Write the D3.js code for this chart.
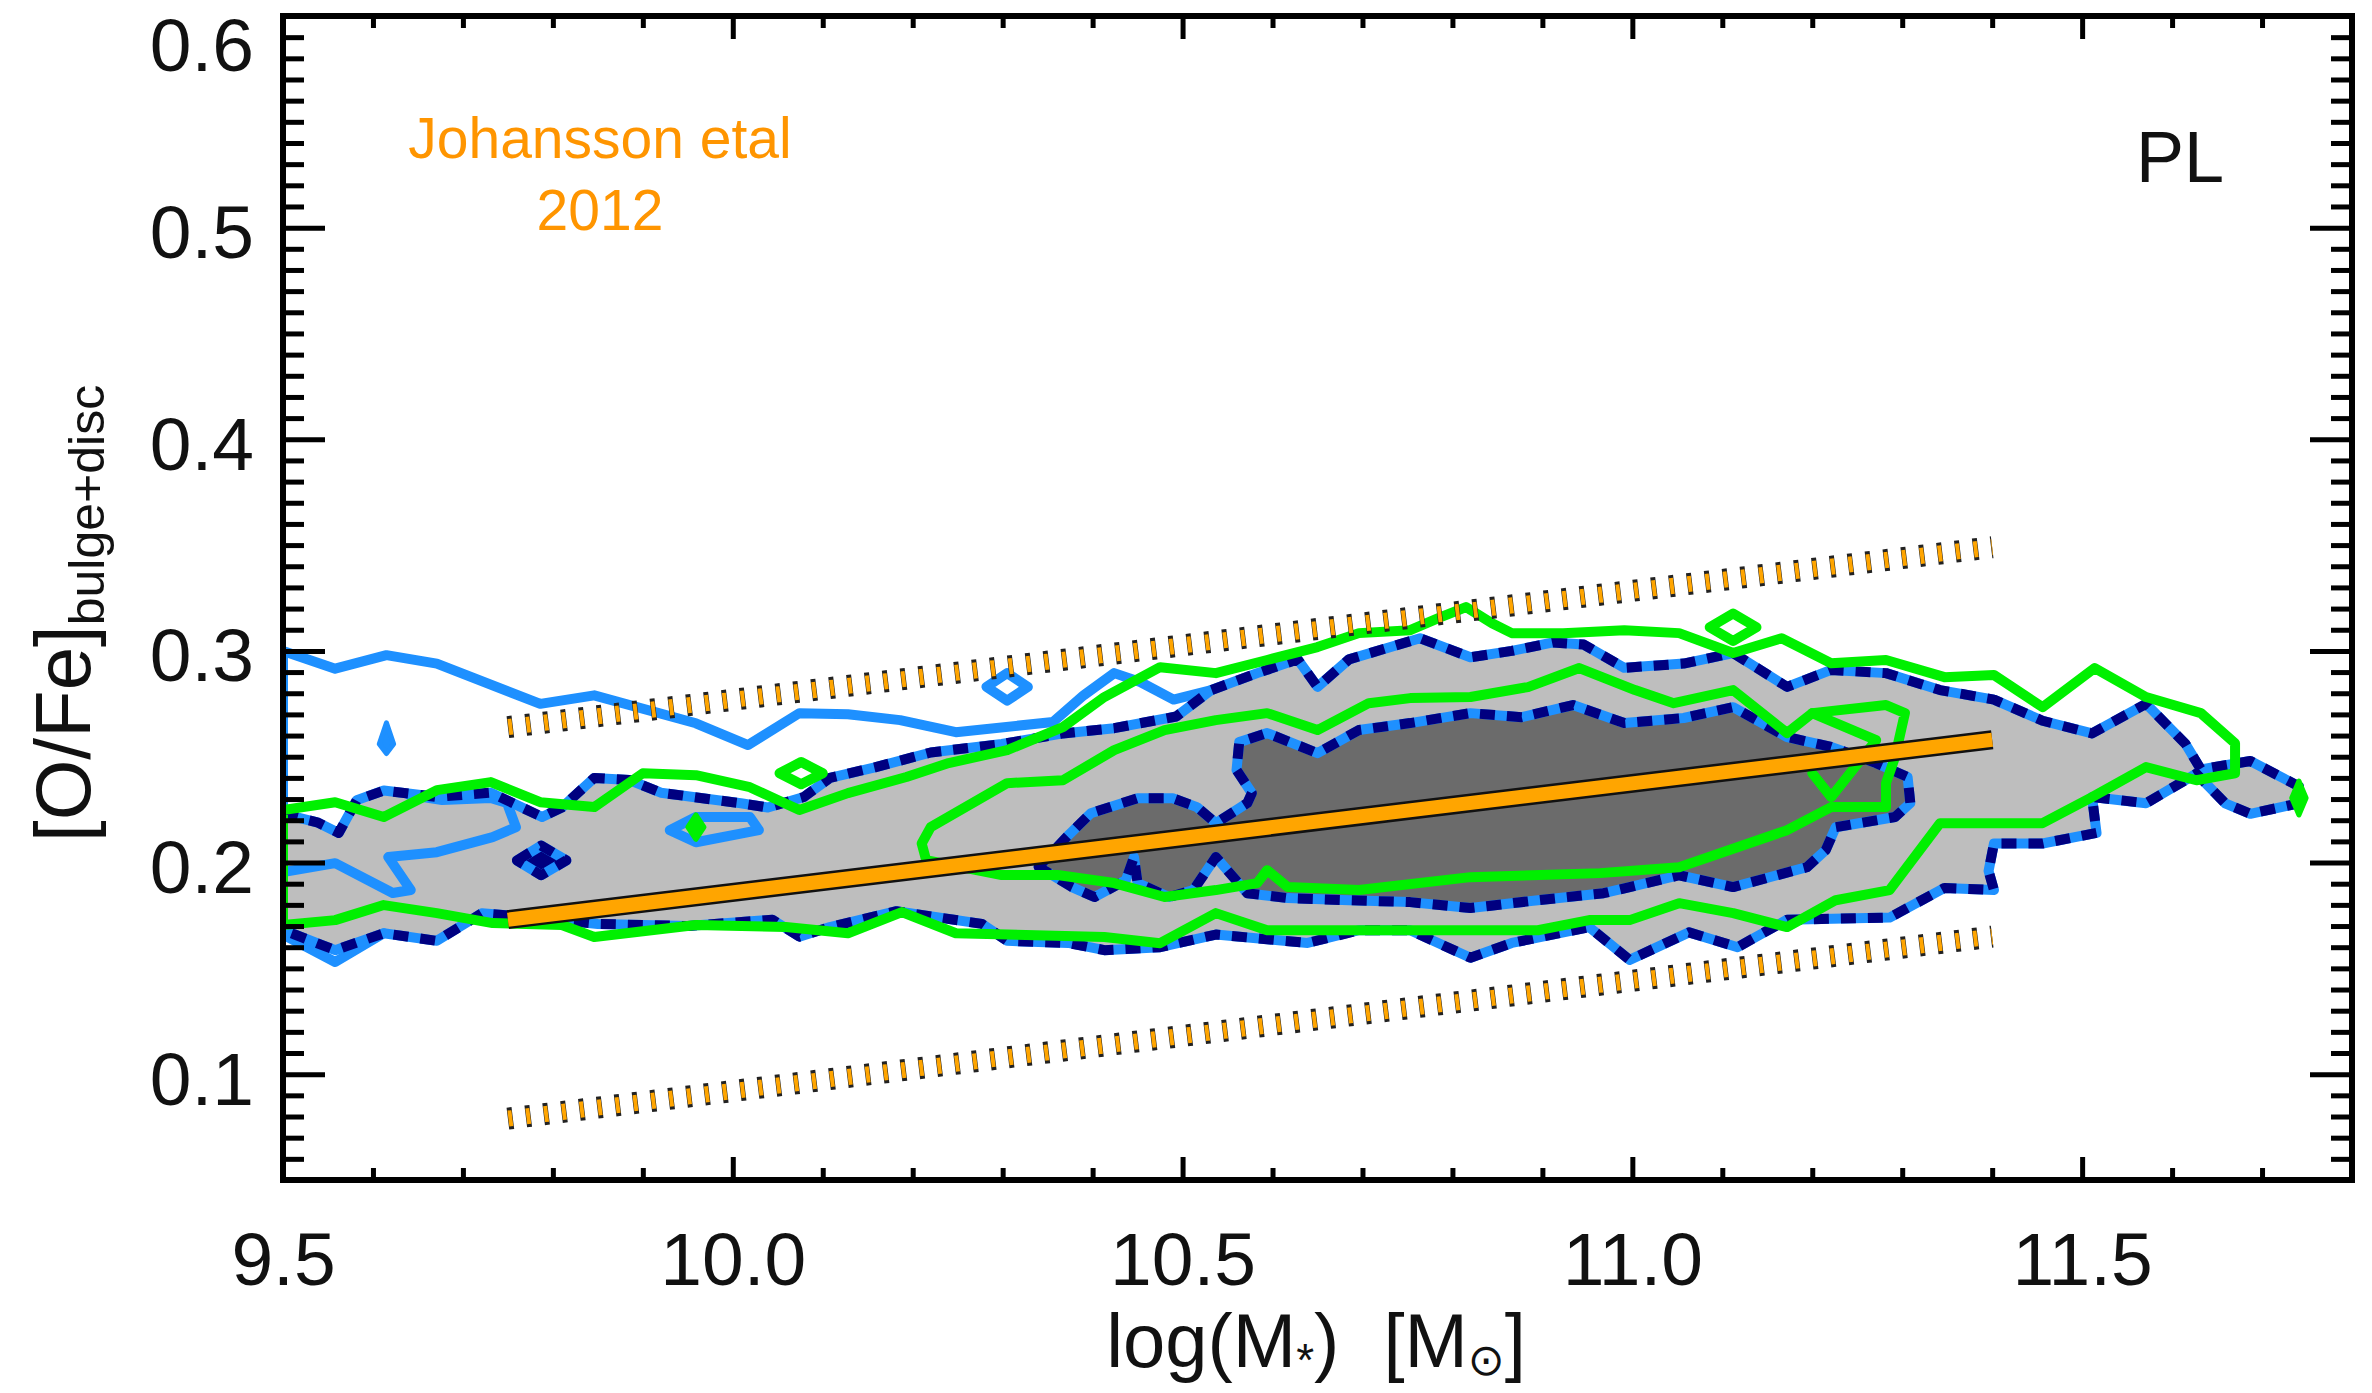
<!DOCTYPE html>
<html><head><meta charset="utf-8">
<script src="https://cdn.jsdelivr.net/npm/d3@7"></script>
<style>body{margin:0;background:#fff;overflow:hidden}</style>
</head><body>
<svg id="chart" width="2372" height="1393"></svg>
<script>
// ---------- tick labels ----------
const xMajor = [9.5, 10.0, 10.5, 11.0, 11.5];
const xLabels = ["9.5", "10.0", "10.5", "11.0", "11.5"];
const yMajor = [0.1, 0.2, 0.3, 0.4, 0.5, 0.6];
const yLabels = ["0.1", "0.2", "0.3", "0.4", "0.5", "0.6"];

// ---------- Johansson et al. 2012 relation and scatter band ----------
const relationX = [9.75, 11.4];
const relationY = [0.173, 0.258];
const bandUpperY = [0.264, 0.349];
const bandLowerY = [0.079, 0.165];

// ---------- model contours: filled outer (light grey) region ----------
const outerRegion = [
[9.5,0.223],[9.538,0.219],[9.562,0.214],[9.582,0.2295],[9.612,0.234],[9.671,0.231],[9.731,0.233],[9.788,0.2215],[9.81,0.226],[9.846,0.240],[9.885,0.239],[9.92,0.233],[10.009,0.228],[10.039,0.226],[10.079,0.231],[10.108,0.240],[10.158,0.245],[10.22,0.252],[10.299,0.256],[10.367,0.261],[10.424,0.2635],[10.493,0.269],[10.532,0.2815],[10.583,0.2895],[10.628,0.296],[10.65,0.283],[10.685,0.296],[10.764,0.306],[10.82,0.297],[10.866,0.300],[10.912,0.304],[10.946,0.303],[10.991,0.292],[11.057,0.294],[11.112,0.299],[11.172,0.283],[11.221,0.291],[11.282,0.2895],[11.342,0.2815],[11.402,0.277],[11.456,0.267],[11.511,0.261],[11.571,0.275],[11.615,0.256],[11.632,0.244],[11.687,0.248],[11.741,0.236],
[11.741,0.228],[11.687,0.223],[11.659,0.228],[11.627,0.242],[11.571,0.228],[11.511,0.231],[11.516,0.214],[11.456,0.209],[11.402,0.209],[11.396,0.196],[11.402,0.187],[11.347,0.188],[11.286,0.174],[11.172,0.173],[11.117,0.160],[11.063,0.167],[10.997,0.154],[10.952,0.1695],[10.866,0.162],[10.82,0.155],[10.753,0.168],[10.696,0.168],[10.639,0.162],[10.537,0.166],[10.475,0.160],[10.413,0.1586],[10.373,0.162],[10.305,0.163],[10.277,0.171],[10.182,0.177],[10.108,0.1695],[10.074,0.165],[10.044,0.173],[9.95,0.170],[9.85,0.171],[9.78,0.174],[9.721,0.176],[9.671,0.163],[9.612,0.1666],[9.558,0.1586],[9.513,0.166],[9.5,0.168]
];

// ---------- model contours: filled inner (dark grey) regions ----------
const innerRegion = [
[10.34,0.198],[10.371,0.212],[10.398,0.2233],[10.450,0.2304],[10.489,0.2304],[10.516,0.2262],[10.537,0.2186],[10.572,0.2281],[10.577,0.2328],[10.560,0.2437],[10.563,0.2569],[10.594,0.2612],[10.650,0.2517],[10.696,0.2626],[10.753,0.2659],[10.820,0.2706],[10.877,0.2687],[10.934,0.2744],[10.991,0.2659],[11.057,0.2683],[11.112,0.2734],[11.172,0.2593],[11.221,0.2546],[11.271,0.2470],[11.306,0.2404],[11.309,0.2281],[11.292,0.2215],[11.226,0.2167],[11.215,0.2059],[11.194,0.1978],[11.112,0.1884],[11.052,0.1940],[10.997,0.1884],[10.968,0.1855],[10.895,0.1822],[10.82,0.1785],[10.753,0.1813],[10.685,0.1822],[10.617,0.1832],[10.572,0.1855],[10.537,0.2026],[10.512,0.1870],[10.485,0.1837],[10.450,0.1903],[10.446,0.2026],[10.437,0.1917],[10.402,0.1837],[10.377,0.1884],[10.346,0.1964]
];
const innerIsland = [[9.76,0.201],[9.787,0.208],[9.815,0.201],[9.787,0.194]];

// ---------- second model (blue solid) contour pieces ----------
const blueTop = [[9.5,0.227],[9.5,0.300],[9.558,0.2916],[9.615,0.298],[9.671,0.294],[9.786,0.275],[9.846,0.279],[9.959,0.2658],[10.017,0.2555],[10.074,0.2706],[10.128,0.2701],[10.186,0.2673],[10.248,0.2616],[10.356,0.2664],[10.39,0.279],[10.424,0.2895],[10.453,0.2853],[10.49,0.277],[10.532,0.2815]];
const blueLeftLoop = [[9.5,0.1955],[9.558,0.1997],[9.622,0.1856],[9.642,0.187],[9.617,0.2026],[9.671,0.2049],[9.733,0.212],[9.759,0.2167],[9.749,0.2281],[9.731,0.2305],[9.677,0.2295],[9.64,0.232]];
const blueLowerLeft = [[9.5,0.166],[9.558,0.153],[9.612,0.1666]];
const blueMidLoop = [[9.930,0.2153],[9.959,0.2215],[10.019,0.2215],[10.029,0.2153],[9.959,0.2096]];
const blueDiamond = [[10.282,0.283],[10.305,0.2895],[10.328,0.283],[10.305,0.2765]];
const blueDrop = [[9.615,0.266],[9.623,0.256],[9.615,0.2515],[9.607,0.256]];

// ---------- third model (green) contours ----------
const greenOuter = [
[9.5,0.2248],[9.558,0.2285],[9.612,0.2215],[9.671,0.2342],[9.731,0.238],[9.786,0.2285],[9.846,0.2262],[9.900,0.2422],[9.959,0.2413],[10.019,0.2356],[10.074,0.2248],[10.128,0.2328],[10.193,0.2404],[10.24,0.247],[10.305,0.2531],[10.367,0.264],[10.413,0.2782],[10.475,0.2923],[10.537,0.2895],[10.594,0.2957],[10.65,0.3018],[10.696,0.3084],[10.753,0.3098],[10.787,0.316],[10.815,0.3207],[10.844,0.3131],[10.866,0.3084],[10.923,0.3084],[10.991,0.3098],[11.052,0.3084],[11.112,0.299],[11.166,0.306],[11.221,0.2942],[11.282,0.2957],[11.347,0.2876],[11.402,0.2886],[11.456,0.2734],[11.514,0.2919],[11.571,0.2782],[11.632,0.2706],[11.67,0.2564],[11.67,0.2422],[11.627,0.2389],[11.571,0.2451],[11.511,0.2309],[11.456,0.2186],[11.342,0.2186],[11.286,0.187],[11.226,0.1822],[11.172,0.1695],[11.112,0.1761],[11.052,0.1808],[10.997,0.1728],[10.952,0.1728],[10.895,0.168],[10.753,0.168],[10.594,0.168],[10.537,0.1761],[10.475,0.1619],[10.413,0.1648],[10.248,0.1666],[10.188,0.1766],[10.128,0.1666],[10.059,0.1695],[9.959,0.1705],[9.846,0.1648],[9.81,0.1705],[9.733,0.1714],[9.671,0.1761],[9.612,0.1799],[9.558,0.1728],[9.5,0.1705]
];
const greenInner = [
[10.22,0.2167],[10.305,0.2375],[10.367,0.2389],[10.424,0.2531],[10.48,0.2626],[10.537,0.2673],[10.594,0.2706],[10.65,0.2626],[10.707,0.2753],[10.753,0.2777],[10.82,0.2782],[10.884,0.2829],[10.941,0.2919],[11.003,0.2815],[11.046,0.2753],[11.112,0.2815],[11.172,0.2612],[11.2,0.2706],[11.282,0.2744],[11.303,0.2706],[11.292,0.2498],[11.282,0.2375],[11.282,0.2262],[11.221,0.2262],[11.172,0.2153],[11.052,0.1978],[10.964,0.195],[10.82,0.1931],[10.696,0.187],[10.617,0.1884],[10.594,0.1964],[10.583,0.1903],[10.537,0.187],[10.48,0.1837],[10.424,0.1903],[10.361,0.1941],[10.299,0.1941],[10.215,0.2011],[10.21,0.209]
];
const greenFold = [[11.2,0.2706],[11.271,0.2578],[11.221,0.2309],[11.2,0.2422]];
const greenDiamondA = [[10.052,0.2422],[10.076,0.2475],[10.10,0.2422],[10.076,0.237]];
const greenDiamondB = [[11.086,0.3112],[11.112,0.3177],[11.138,0.3112],[11.112,0.3047]];
const greenDotA = [[9.950,0.2167],[9.959,0.2225],[9.968,0.2167],[9.959,0.211]];
const greenDotB = [[11.733,0.2305],[11.741,0.2385],[11.749,0.2305],[11.741,0.2225]];

// ---------- drawing ----------
const L = 283, R = 2352, T = 16, B = 1180;
const svg = d3.select("#chart");
const x = d3.scaleLinear().domain([9.5, 11.8]).range([L, R]);
const y = d3.scaleLinear().domain([0.05, 0.6]).range([B, T]);
const FONT = "'Liberation Sans', Arial, Helvetica, sans-serif";

svg.append("defs").append("clipPath").attr("id", "plotclip")
  .append("rect").attr("x", L).attr("y", T).attr("width", R - L).attr("height", B - T);

const plot = svg.append("g").attr("clip-path", "url(#plotclip)");
const open = d3.line().x(d => x(d[0])).y(d => y(d[1]));
const closed = d3.line().x(d => x(d[0])).y(d => y(d[1])).curve(d3.curveLinearClosed);

const BLUE = "#1E90FF", NAVY = "#000080", GREEN = "#00F000";
const LIGHT = "#BEBEBE", DARK = "#6B6B6B";
const LW = 10;

// fills
plot.append("path").attr("d", closed(outerRegion)).attr("fill", LIGHT);
plot.append("path").attr("d", closed(innerRegion)).attr("fill", DARK);
plot.append("path").attr("d", closed(innerIsland)).attr("fill", NAVY);

// blue solid contours
const blueStyle = sel => sel.attr("fill", "none").attr("stroke", BLUE).attr("stroke-width", LW)
  .attr("stroke-linejoin", "round").attr("stroke-linecap", "round");
plot.append("path").attr("d", open(blueTop)).call(blueStyle);
plot.append("path").attr("d", open(blueLeftLoop)).call(blueStyle);
plot.append("path").attr("d", open(blueLowerLeft)).call(blueStyle);
plot.append("path").attr("d", closed(blueMidLoop)).call(blueStyle);
plot.append("path").attr("d", closed(blueDiamond)).call(blueStyle);
plot.append("path").attr("d", closed(blueDrop)).call(blueStyle).attr("fill", BLUE).attr("stroke-width", 5);

// dashed borders of filled regions (navy dashes over blue)
[outerRegion, innerRegion, innerIsland].forEach(poly => {
  plot.append("path").attr("d", closed(poly)).attr("fill", "none").attr("stroke", BLUE)
    .attr("stroke-width", LW).attr("stroke-linejoin", "round");
  plot.append("path").attr("d", closed(poly)).attr("fill", "none").attr("stroke", NAVY)
    .attr("stroke-width", LW).attr("stroke-dasharray", "15 12").attr("stroke-linejoin", "round");
});

// green contours
const greenStyle = sel => sel.attr("fill", "none").attr("stroke", GREEN).attr("stroke-width", LW)
  .attr("stroke-linejoin", "round").attr("stroke-linecap", "round");
plot.append("path").attr("d", closed(greenOuter)).call(greenStyle);
plot.append("path").attr("d", closed(greenInner)).call(greenStyle);
plot.append("path").attr("d", open(greenFold)).call(greenStyle);
plot.append("path").attr("d", closed(greenDiamondA)).call(greenStyle);
plot.append("path").attr("d", closed(greenDiamondB)).call(greenStyle);
plot.append("path").attr("d", closed(greenDotA)).call(greenStyle).attr("fill", GREEN).attr("stroke-width", 5);
plot.append("path").attr("d", closed(greenDotB)).call(greenStyle).attr("fill", GREEN).attr("stroke-width", 5);

// Johansson relation: dotted scatter band and thick line
[bandUpperY, bandLowerY].forEach(by => {
  const seg = relationX.map((v, i) => [v, by[i]]);
  plot.append("path").attr("d", open(seg)).attr("fill", "none").attr("stroke", "#222")
    .attr("stroke-width", 22).attr("stroke-dasharray", "5 13");
  plot.append("path").attr("d", open(seg)).attr("fill", "none").attr("stroke", "#FFA500")
    .attr("stroke-width", 16).attr("stroke-dasharray", "4 14").attr("stroke-dashoffset", -0.5);
});
const rel = relationX.map((v, i) => [v, relationY[i]]);
plot.append("path").attr("d", open(rel)).attr("fill", "none").attr("stroke", "#111").attr("stroke-width", 19);
plot.append("path").attr("d", open(rel)).attr("fill", "none").attr("stroke", "#FFA500").attr("stroke-width", 14);

// annotations
const ann = svg.append("text").attr("font-family", FONT).attr("font-size", 57).attr("fill", "#FF9500")
  .attr("text-anchor", "middle");
ann.append("tspan").attr("x", 600).attr("y", 158).text("Johansson etal");
ann.append("tspan").attr("x", 600).attr("y", 230).text("2012");
svg.append("text").attr("x", 2136).attr("y", 182).attr("font-family", FONT).attr("font-size", 72)
  .attr("fill", "#111").text("PL");

// axes
const xMinor = d3.range(95, 119).map(d => d / 10).filter(v => !xMajor.some(m => Math.abs(m - v) < 1e-6));
const yMinor = d3.range(5, 61).map(d => d / 100).filter(v => !yMajor.some(m => Math.abs(m - v) < 1e-6));

function styleAxis(g) {
  g.select(".domain").remove();
  g.selectAll(".tick line").attr("stroke", "#000").attr("stroke-width", 5);
  g.selectAll(".tick text").attr("font-family", FONT).attr("font-size", 75).attr("fill", "#111");
}
svg.append("g").attr("transform", `translate(0,${B})`)
  .call(d3.axisBottom(x).tickValues(xMajor).tickFormat((d, i) => xLabels[i]).tickSize(-23).tickPadding(52)).call(styleAxis);
svg.append("g").attr("transform", `translate(0,${B})`)
  .call(d3.axisBottom(x).tickValues(xMinor).tickFormat("").tickSize(-12)).call(styleAxis);
svg.append("g").attr("transform", `translate(0,${T})`)
  .call(d3.axisTop(x).tickValues(xMajor).tickFormat("").tickSize(-23)).call(styleAxis);
svg.append("g").attr("transform", `translate(0,${T})`)
  .call(d3.axisTop(x).tickValues(xMinor).tickFormat("").tickSize(-12)).call(styleAxis);

const gyl = svg.append("g").attr("transform", `translate(${L},0)`)
  .call(d3.axisLeft(y).tickValues(yMajor).tickFormat((d, i) => yLabels[i]).tickSize(-42).tickPadding(29)).call(styleAxis);
gyl.selectAll(".tick text").attr("dy", "0.4em");
gyl.selectAll(".tick text").filter(d => Math.abs(d - 0.6) < 1e-9).attr("dy", "0.72em");
svg.append("g").attr("transform", `translate(${L},0)`)
  .call(d3.axisLeft(y).tickValues(yMinor).tickFormat("").tickSize(-21)).call(styleAxis);
svg.append("g").attr("transform", `translate(${R},0)`)
  .call(d3.axisRight(y).tickValues(yMajor).tickFormat("").tickSize(-42)).call(styleAxis);
svg.append("g").attr("transform", `translate(${R},0)`)
  .call(d3.axisRight(y).tickValues(yMinor).tickFormat("").tickSize(-21)).call(styleAxis);

// frame
svg.append("rect").attr("x", L).attr("y", T).attr("width", R - L).attr("height", B - T)
  .attr("fill", "none").attr("stroke", "#000").attr("stroke-width", 6);

// axis titles
const xt = svg.append("text").attr("x", 1316).attr("y", 1367).attr("text-anchor", "middle")
  .attr("font-family", FONT).attr("font-size", 76).attr("fill", "#111");
xt.append("tspan").text("log(M");
xt.append("tspan").attr("font-size", 46).attr("dy", 9).text("*");
xt.append("tspan").attr("dy", -9).text(")");
xt.append("tspan").attr("dx", 44).text("[M");
xt.append("tspan").attr("font-size", 44).attr("dy", 8).attr("font-family", "'DejaVu Sans', sans-serif").text("\u2299");
xt.append("tspan").attr("dy", -8).text("]");

const yt = svg.append("text").attr("transform", "translate(90,842) rotate(-90)")
  .attr("font-family", FONT).attr("font-size", 78).attr("fill", "#111");
yt.append("tspan").text("[O/Fe]");
yt.append("tspan").attr("font-size", 50).attr("dy", 14).text("bulge+disc");
</script>
</body></html>
